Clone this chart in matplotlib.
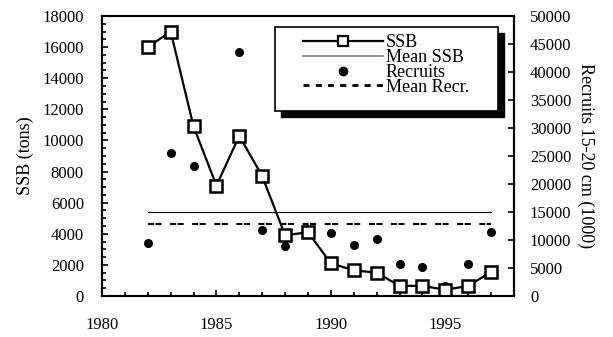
import matplotlib
matplotlib.use('Agg')
import matplotlib.pyplot as plt
from matplotlib.ticker import MultipleLocator
from matplotlib.lines import Line2D
from matplotlib.patches import Rectangle

plt.rcParams['font.family'] = ['Liberation Serif', 'DejaVu Serif']
plt.rcParams['font.size'] = 12

years = list(range(1982, 1998))
ssb = [16000, 17000, 10900, 7100, 10300, 7700, 3900, 4100, 2100, 1650, 1500, 650, 650, 400, 650, 1550]
recruits = [9400, 25500, 23300, 20200, 43600, 11800, 8900, 11900, 11200, 9100, 10100, 5700, 5100, 1700, 5700, 11400]
mean_ssb = 5400
mean_recr = 12900

fig = plt.figure(figsize=(6.13, 3.37), dpi=100)
ax = fig.add_axes([102 / 613, 1 - 296 / 337, 412 / 613, 280 / 337])
ax2 = ax.twinx()

# recruits on the right axis, behind the SSB line
ax2.plot(years, recruits, 'o', color='black', ms=5.5, zorder=2)
ax2.plot([years[0], years[-1]], [mean_recr, mean_recr], color='black', lw=1.5,
         dashes=(2.9, 0.7, 2.9, 4.1), dash_capstyle='butt', zorder=2)
ax2.set_ylim(0, 50000)
ax2.yaxis.set_major_locator(MultipleLocator(5000))
ax2.tick_params(axis='y', direction='in', length=4, width=1.2, labelsize=12, pad=11.5)
ax2.set_ylabel('Recruits 15-20 cm (1000)', rotation=-90, labelpad=4, fontsize=13)
ax2.yaxis.label.set_va('bottom')

ax.set_zorder(ax2.get_zorder() + 1)
ax.patch.set_visible(False)
ax.plot(years, ssb, '-s', color='black', lw=1.6, ms=9, mfc='white', mec='black', mew=1.8)
ax.plot([years[0], years[-1]], [mean_ssb, mean_ssb], color='black', lw=0.8)
ax.set_xlim(1980, 1998)
ax.set_ylim(0, 18000)
ax.set_xticks([1980, 1985, 1990, 1995])
ax.xaxis.set_minor_locator(MultipleLocator(1))
ax.yaxis.set_major_locator(MultipleLocator(2000))
ax.yaxis.set_minor_locator(MultipleLocator(500))
ax.tick_params(which='both', direction='in', width=1.2, labelsize=12)
ax.tick_params(which='major', length=4)
ax.tick_params(which='minor', length=3)
ax.tick_params(axis='y', pad=13)
ax.tick_params(axis='x', pad=15)
ax.set_ylabel('SSB (tons)', fontsize=13, labelpad=6)
for a in (ax, ax2):
    for s in a.spines.values():
        s.set_linewidth(1.5)

# legend box with a solid drop shadow
sx, sy = 6 / 412, 6 / 280
ax.add_patch(Rectangle((0.420 + sx, 0.662 - sy), 0.540, 0.298, transform=ax.transAxes,
                       facecolor='black', edgecolor='black', zorder=5, clip_on=False))
ax.add_patch(Rectangle((0.420, 0.662), 0.540, 0.298, transform=ax.transAxes,
                       facecolor='white', edgecolor='black', lw=1.2, zorder=6, clip_on=False))

handles = [
    Line2D([], [], color='black', lw=1.6, marker='s', ms=7, mfc='white', mew=1.6),
    Line2D([], [], color='gray', lw=1.2),
    Line2D([], [], color='black', marker='o', ls='none', ms=6),
    Line2D([], [], color='black', lw=2, dashes=(2.2, 2.2)),
]
leg = ax.legend(handles, ['SSB', 'Mean SSB', 'Recruits', 'Mean Recr.'],
                loc='upper left', bbox_to_anchor=(0.488, 0.935), frameon=False,
                handlelength=4.4, handletextpad=0.17, labelspacing=-0.12,
                borderpad=0, borderaxespad=0, fontsize=13)
leg.set_zorder(7)

fig.savefig('out.png', dpi=100)
